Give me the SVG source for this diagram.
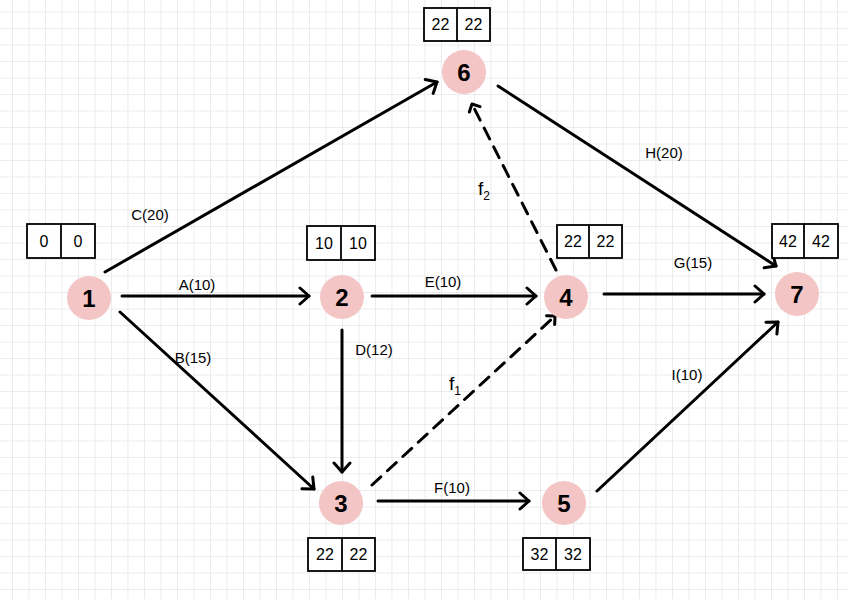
<svg xmlns="http://www.w3.org/2000/svg" width="848" height="599" viewBox="0 0 848 599">
<defs>
<pattern id="grid" patternUnits="userSpaceOnUse" x="12" y="11.5" width="16.5" height="16.5">
<path d="M0 0V16.5M0 0H16.5" fill="none" stroke="#e6e6e6" stroke-width="1.5"/>
</pattern>
<marker id="arr" markerUnits="userSpaceOnUse" viewBox="-12 -10 14 20" refX="0" refY="0" markerWidth="14" markerHeight="20" orient="auto">
<path d="M-9 -8L0 0L-9 8" fill="none" stroke="#000" stroke-width="3" stroke-linecap="round" stroke-linejoin="round"/>
</marker>
<marker id="arrs" markerUnits="userSpaceOnUse" viewBox="-12 -10 14 20" refX="0" refY="0" markerWidth="14" markerHeight="20" orient="auto">
<path d="M-6 -6L0 0L-6 6" fill="none" stroke="#000" stroke-width="3" stroke-linecap="round" stroke-linejoin="round"/>
</marker>
</defs>
<style>
.e{fill:none;stroke:#000;stroke-width:3;stroke-linecap:round;marker-end:url(#arr)}
.d{stroke-dasharray:12 9;marker-end:url(#arrs)}
.n{fill:#f4c5c5}
.nt{font-family:"Liberation Sans",sans-serif;font-size:24px;font-weight:bold;text-anchor:middle;fill:#000}
.b{fill:#fff;stroke:#000;stroke-width:1.8}
.bt{font-family:"Liberation Sans",sans-serif;font-size:16px;text-anchor:middle;fill:#000}
.l{font-family:"Liberation Sans",sans-serif;font-size:15px;text-anchor:middle;fill:#000}
.f{font-family:"Liberation Sans",sans-serif;font-size:19px;text-anchor:middle;fill:#000}
</style>
<rect width="848" height="599" fill="#fff"/>
<rect width="848" height="599" fill="url(#grid)"/>
<g id="connectors">
<line class="e" x1="105" y1="272" x2="437" y2="82"/>
<line class="e" x1="122" y1="296" x2="309" y2="296"/>
<line class="e" x1="120" y1="312" x2="314" y2="489"/>
<line class="e" x1="372" y1="296" x2="536" y2="296"/>
<line class="e" x1="342" y1="330" x2="342" y2="472"/>
<line class="e d" x1="372" y1="485" x2="555" y2="316"/>
<line class="e" x1="378" y1="501" x2="529" y2="501"/>
<line class="e d" x1="556" y1="270" x2="472" y2="104"/>
<line class="e" x1="604" y1="294" x2="764" y2="294"/>
<line class="e" x1="498" y1="86" x2="776" y2="266"/>
<line class="e" x1="597" y1="491" x2="778" y2="322"/>
<text class="l" x="150" y="220">C(20)</text>
<text class="l" x="197" y="290">A(10)</text>
<text class="l" x="193" y="363">B(15)</text>
<text class="l" x="443" y="287">E(10)</text>
<text class="l" x="374" y="355">D(12)</text>
<text class="f" x="455" y="390">f<tspan font-size="12" dy="5">1</tspan></text>
<text class="l" x="452" y="493">F(10)</text>
<text class="f" x="484" y="195">f<tspan font-size="12" dy="5">2</tspan></text>
<text class="l" x="693" y="268">G(15)</text>
<text class="l" x="664" y="158">H(20)</text>
<text class="l" x="687" y="380">I(10)</text>
</g>
<g id="node1">
<circle class="n" cx="89" cy="298" r="22"/>
<text class="nt" x="89" y="307">1</text>
<rect class="b" x="27" y="224" width="68" height="34"/><line class="b" x1="61" y1="224" x2="61" y2="258"/>
<text class="bt" x="44" y="247">0</text><text class="bt" x="78" y="247">0</text>
</g>
<g id="node2">
<circle class="n" cx="342" cy="297" r="22"/>
<text class="nt" x="342" y="306">2</text>
<rect class="b" x="307" y="226" width="68" height="34"/><line class="b" x1="341" y1="226" x2="341" y2="260"/>
<text class="bt" x="324" y="249">10</text><text class="bt" x="358" y="249">10</text>
</g>
<g id="node6">
<circle class="n" cx="464" cy="72" r="22"/>
<text class="nt" x="464" y="81">6</text>
<rect class="b" x="424" y="8" width="66" height="33"/><line class="b" x1="457" y1="8" x2="457" y2="41"/>
<text class="bt" x="440.5" y="30">22</text><text class="bt" x="473.5" y="30">22</text>
</g>
<g id="node4">
<circle class="n" cx="566" cy="297" r="22"/>
<text class="nt" x="566" y="306">4</text>
<rect class="b" x="557" y="225" width="65" height="33"/><line class="b" x1="589" y1="225" x2="589" y2="258"/>
<text class="bt" x="573" y="247">22</text><text class="bt" x="605.5" y="247">22</text>
</g>
<g id="node7">
<circle class="n" cx="797" cy="294" r="22"/>
<text class="nt" x="797" y="303">7</text>
<rect class="b" x="772" y="224" width="66" height="34"/><line class="b" x1="804" y1="224" x2="804" y2="258"/>
<text class="bt" x="788" y="247">42</text><text class="bt" x="821" y="247">42</text>
</g>
<g id="node3">
<circle class="n" cx="341" cy="503" r="22"/>
<text class="nt" x="341" y="512">3</text>
<rect class="b" x="308" y="538" width="67" height="33"/><line class="b" x1="342" y1="538" x2="342" y2="571"/>
<text class="bt" x="325" y="560">22</text><text class="bt" x="358.5" y="560">22</text>
</g>
<g id="node5">
<circle class="n" cx="564" cy="503" r="22"/>
<text class="nt" x="564" y="512">5</text>
<rect class="b" x="523" y="538" width="67" height="32"/><line class="b" x1="556" y1="538" x2="556" y2="570"/>
<text class="bt" x="539.5" y="560">32</text><text class="bt" x="573" y="560">32</text>
</g>
</svg>
